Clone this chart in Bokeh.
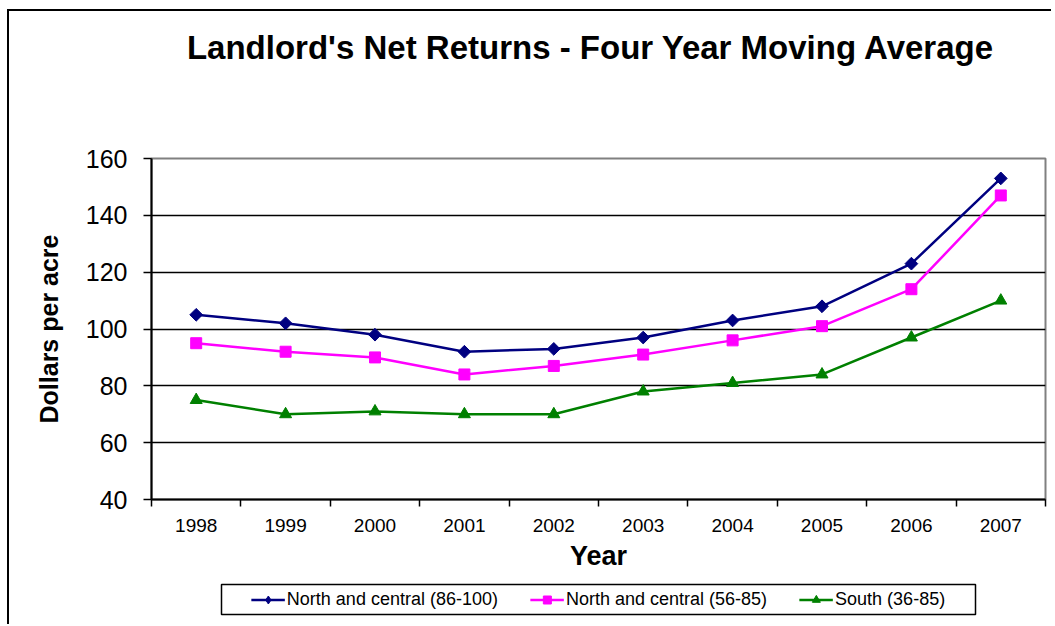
import math
from bokeh.plotting import figure
from bokeh.layouts import column
from bokeh.models import Range1d, FixedTicker, Legend, LegendItem, Div
from bokeh.embed import file_html
from bokeh.resources import INLINE

years = ["1998", "1999", "2000", "2001", "2002", "2003", "2004", "2005", "2006", "2007"]
north_86_100 = [105, 102, 98, 92, 93, 97, 103, 108, 123, 153]
north_56_85 = [95, 92, 90, 84, 87, 91, 96, 101, 114, 147]
south_36_85 = [75, 70, 71, 70, 70, 78, 81, 84, 97, 110]
series_names = ["North and central (86-100)", "North and central (56-85)", "South (36-85)"]
y_ticks = [40, 60, 80, 100, 120, 140, 160]
title_text = "Landlord's Net Returns - Four Year Moving Average"

FONT = "Liberation Sans"
x = list(range(1, len(years) + 1))

title = Div(text=title_text, width=1042, height=74, margin=0,
            styles={"font-family": FONT, "font-size": "33px", "font-weight": "bold",
                    "color": "black", "text-align": "center", "text-indent": "120px",
                    "line-height": "74px", "white-space": "nowrap"})

p = figure(frame_width=894, frame_height=341,
           min_border_left=142, min_border_right=6, min_border_top=73, min_border_bottom=80,
           x_range=Range1d(0.5, len(years) + 0.5), y_range=Range1d(y_ticks[0], y_ticks[-1]),
           output_backend="svg", toolbar_location=None, frame_align=False)

p.outline_line_color = "#808080"
p.outline_line_width = 2

p.xgrid.visible = False
p.ygrid.ticker = FixedTicker(ticks=y_ticks)
p.ygrid.grid_line_color = "black"
p.ygrid.grid_line_width = 1.5

xa = p.xaxis[0]
xa.ticker = FixedTicker(ticks=x, minor_ticks=[i - 0.5 for i in x] + [x[-1] + 0.5])
xa.major_label_overrides = {i: y for i, y in zip(x, years)}
xa.major_tick_line_color = None
xa.major_tick_out = 0
xa.major_tick_in = 0
xa.minor_tick_line_color = "black"
xa.minor_tick_line_width = 1.5
xa.minor_tick_out = 7
xa.minor_tick_in = 0
xa.major_label_standoff = 12
xa.major_label_text_font = FONT
xa.major_label_text_font_size = "19px"
xa.major_label_text_color = "black"
xa.axis_label = "Year"
xa.axis_label_text_font = FONT
xa.axis_label_text_font_size = "27px"
xa.axis_label_text_font_style = "bold"
xa.axis_label_text_color = "black"
xa.axis_label_standoff = 6
xa.axis_line_color = "black"
xa.axis_line_width = 2

ya = p.yaxis[0]
ya.ticker = FixedTicker(ticks=y_ticks)
ya.minor_tick_line_color = None
ya.major_tick_out = 8
ya.major_tick_in = 0
ya.major_tick_line_color = "black"
ya.major_tick_line_width = 1.5
ya.major_label_standoff = 16
ya.major_label_text_font = FONT
ya.major_label_text_font_size = "25px"
ya.major_label_text_color = "black"
ya.axis_label = "Dollars per acre"
ya.axis_label_text_font = FONT
ya.axis_label_text_font_size = "25px"
ya.axis_label_text_font_style = "bold"
ya.axis_label_text_color = "black"
ya.axis_label_standoff = 20
ya.axis_line_color = "black"
ya.axis_line_width = 2

colors = ["#000080", "#FF00FF", "#008000"]
markers = ["square", "square", "triangle"]
angles = [math.pi / 4, 0, 0]
sizes = [9, 11, 12]
legend_markers = ["diamond", "square", "triangle"]
legend_sizes = [11, 9, 10]
data = [north_86_100, north_56_85, south_36_85]

# legend lives in a small second figure whose frame outline is the legend box;
# its renderers carry the same series but lie outside its visible ranges.
p2 = figure(frame_width=754, frame_height=30, min_border_left=212, min_border_right=76,
            min_border_top=5, min_border_bottom=10,
            x_range=Range1d(0, 0.5), y_range=Range1d(0, 1),
            x_axis_type=None, y_axis_type=None,
            output_backend="svg", toolbar_location=None, frame_align=False)
p2.grid.visible = False
p2.outline_line_color = "black"
p2.outline_line_width = 1.5

items = []
for name, vals, c, m, a, s, lm, ls in zip(series_names, data, colors, markers, angles, sizes,
                                          legend_markers, legend_sizes):
    p.line(x, vals, line_color=c, line_width=2.5)
    p.scatter(x, vals, marker=m, angle=a, size=s, fill_color=c, line_color=c)
    l2 = p2.line(x, vals, line_color=c, line_width=2.5)
    s2 = p2.scatter(x, vals, marker=lm, size=ls, fill_color=c, line_color=c)
    items.append(LegendItem(label=name, renderers=[l2, s2]))

legend = Legend(items=items, orientation="horizontal", location="center",
                padding=0, spacing=32, glyph_width=34, glyph_height=20,
                label_standoff=2, label_text_font=FONT, label_text_font_size="18px",
                label_text_color="black", border_line_color=None,
                background_fill_alpha=0, margin=0)
p2.add_layout(legend, "center")

layout = column(title, p, p2, spacing=0, margin=(9, 0, 0, 7),
                styles={"border-left": "2px solid black", "border-top": "2px solid black"})

open("out.html", "w").write(file_html(layout, INLINE))
